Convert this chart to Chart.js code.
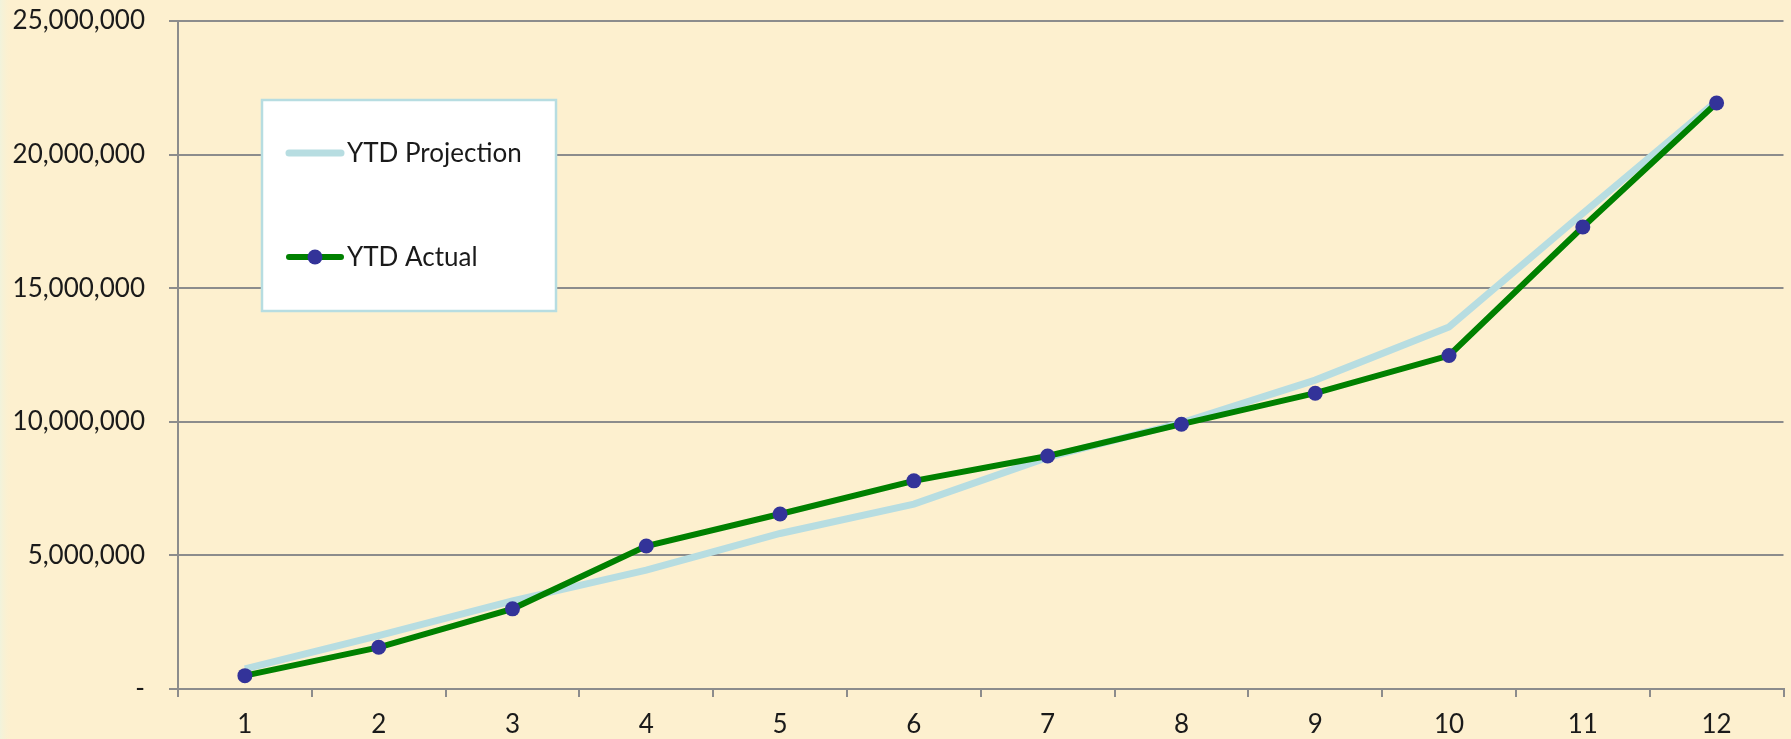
<!DOCTYPE html>
<html>
<head>
<meta charset="utf-8">
<title>YTD Projection vs Actual</title>
<script src="https://cdn.jsdelivr.net/npm/chart.js@4.4.1/dist/chart.umd.min.js"></script>
<style>
  html, body { margin: 0; padding: 0; background: #fdf0cf; }
  #wrap { width: 1791px; height: 739px; position: relative; }
</style>
</head>
<body>
<div id="wrap"><canvas id="chart" width="1791" height="739"></canvas></div>
<script>
// Months of the year
const months = ['1', '2', '3', '4', '5', '6', '7', '8', '9', '10', '11', '12'];

// Cumulative year-to-date totals
const ytdProjection = [750000, 2000000, 3300000, 4450000, 5820000, 6920000, 8670000, 9960000, 11560000, 13550000, 17800000, 22000000];
const ytdActual = [500000, 1560000, 3000000, 5350000, 6550000, 7790000, 8720000, 9910000, 11070000, 12480000, 17290000, 21930000];

// Value axis ticks
const yTicks = [0, 5000000, 10000000, 15000000, 20000000, 25000000];

const FONT = 'Lato, "Open Sans", sans-serif';
const GRID = '#8c8c8c';
const INK = '#1a1a1a';

// Paints the cream page background with a pale strip along the left edge
const backdrop = {
  id: 'backdrop',
  beforeDraw(chart) {
    const { ctx, width, height } = chart;
    ctx.save();
    ctx.fillStyle = '#fdf0cf';
    ctx.fillRect(0, 0, width, height);
    const g = ctx.createLinearGradient(0, 0, 12, 0);
    g.addColorStop(0, '#f1f3dc');
    g.addColorStop(1, 'rgba(253,240,207,0)');
    ctx.fillStyle = g;
    ctx.fillRect(0, 0, 12, height);
    ctx.restore();
  }
};

// Boxed legend placed inside the plot area
const boxLegend = {
  id: 'boxLegend',
  afterDraw(chart) {
    const { ctx } = chart;
    const box = { x: 262, y: 100, w: 294, h: 211 };
    ctx.save();
    ctx.fillStyle = '#ffffff';
    ctx.fillRect(box.x, box.y, box.w, box.h);
    ctx.strokeStyle = '#b7dde1';
    ctx.lineWidth = 2.5;
    ctx.strokeRect(box.x, box.y, box.w, box.h);

    const rows = [153, 257];
    chart.data.datasets.forEach((ds, i) => {
      const y = rows[i];
      ctx.strokeStyle = ds.borderColor;
      ctx.lineWidth = ds.borderWidth;
      ctx.lineCap = 'round';
      ctx.beginPath();
      ctx.moveTo(289, y);
      ctx.lineTo(341, y);
      ctx.stroke();
      if (ds.pointRadius > 0) {
        ctx.fillStyle = ds.pointBackgroundColor;
        ctx.beginPath();
        ctx.arc(315, y, ds.pointRadius, 0, Math.PI * 2);
        ctx.fill();
      }
      ctx.fillStyle = INK;
      ctx.font = '26px ' + FONT;
      ctx.textBaseline = 'middle';
      ctx.textAlign = 'left';
      ctx.fillText(ds.label, 347, y + 1);
    });
    ctx.restore();
  }
};

new Chart(document.getElementById('chart'), {
  type: 'line',
  data: {
    labels: months,
    datasets: [
      {
        label: 'YTD Projection',
        data: ytdProjection,
        borderColor: '#b7dde1',
        borderWidth: 7,
        pointRadius: 0,
        pointHoverRadius: 0,
        tension: 0,
        order: 1
      },
      {
        label: 'YTD Actual',
        data: ytdActual,
        borderColor: '#008000',
        borderWidth: 6,
        pointRadius: 7.5,
        pointBackgroundColor: '#333399',
        pointBorderWidth: 0,
        pointHoverRadius: 7.5,
        tension: 0,
        order: 0
      }
    ]
  },
  options: {
    responsive: false,
    animation: false,
    events: [],
    layout: { padding: { top: 0, right: 4, left: 0, bottom: 0 } },
    plugins: {
      legend: { display: false },
      tooltip: { enabled: false }
    },
    scales: {
      x: {
        type: 'category',
        offset: true,
        afterFit(scale) { scale.height = 50; },
        grid: {
          offset: true,
          drawOnChartArea: false,
          drawTicks: true,
          tickLength: 8,
          color: GRID,
          lineWidth: 2
        },
        border: { display: true, color: GRID, width: 2 },
        ticks: {
          color: INK,
          font: { family: FONT, size: 26 },
          padding: 12,
          maxRotation: 0
        }
      },
      y: {
        min: yTicks[0],
        max: yTicks[yTicks.length - 1],
        afterFit(scale) {
          scale.width = 178;
          scale.paddingTop = 21;
          scale.paddingBottom = 0;
        },
        afterBuildTicks(scale) { scale.ticks = yTicks.map(v => ({ value: v })); },
        grid: {
          drawTicks: true,
          tickLength: 9,
          color: GRID,
          lineWidth: 2
        },
        border: { display: true, color: GRID, width: 2 },
        ticks: {
          color: INK,
          font: { family: FONT, size: 26 },
          padding: 24,
          callback: v => v === 0 ? '-' : Number(v).toLocaleString('en-US')
        }
      }
    }
  },
  plugins: [backdrop, boxLegend]
});
</script>
</body>
</html>
